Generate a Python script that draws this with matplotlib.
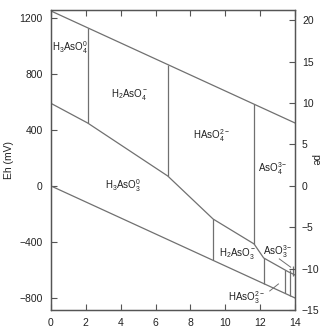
import matplotlib
matplotlib.use("Agg")
import matplotlib.pyplot as plt

plt.rcParams['font.family'] = ['Liberation Sans', 'DejaVu Sans']
plt.rcParams['mathtext.fontset'] = 'custom'
plt.rcParams['mathtext.rm'] = 'Liberation Sans'
plt.rcParams['mathtext.it'] = 'Liberation Sans'
plt.rcParams['mathtext.bf'] = 'Liberation Sans'

# ---- data (pH, Eh in mV) ----
upper_water_ph = [0, 14]
upper_water_eh = [1250, 450]
lower_water_ph = [0, 14]
lower_water_eh = [0, -800]
redox_ph = [0, 2.1, 6.7, 9.3, 11.65, 12.2, 13.6, 14]
redox_eh = [590, 450, 71, -236, -414, -514, -612, -636]

# vertical boundaries: pH, Eh bottom, Eh top
vert_ph = [2.1, 6.7, 11.65, 9.3, 12.2, 13.45, 13.7, 13.88]
vert_lo = [450, 71, -414, -531, -697, -767, -783, -640]
vert_hi = [1130, 867, 584, -236, -514, -600, -600, -575]

# leader lines
leader_ph = [[13.1, 13.75], [12.55, 13.05]]
leader_eh = [[-521, -580], [-750, -700]]

labels = [r"H$_3$AsO$_4^0$", r"H$_2$AsO$_4^-$", r"HAsO$_4^{2-}$", r"AsO$_4^{3-}$",
          r"H$_3$AsO$_3^0$", r"H$_2$AsO$_3^-$", r"AsO$_3^{3-}$", r"HAsO$_3^{2-}$"]
label_ph = [1.1, 4.5, 9.2, 12.75, 4.15, 10.7, 13.0, 11.2]
label_eh = [986, 650, 357, 121, 0, -479, -471, -800]

xticks = [0, 2, 4, 6, 8, 10, 12, 14]
eh_ticks = [-800, -400, 0, 400, 800, 1200]
pe_ticks = [-15, -10, -5, 0, 5, 10, 15, 20]
PE_FACTOR = 59.16

fig = plt.figure(figsize=(3.23, 3.31), dpi=100)
ax = fig.add_axes([51/323, 1-310/331, (295-51)/323, 300/331])

lc = '#707070'
lw = 0.9
ax.plot(upper_water_ph, upper_water_eh, color=lc, lw=lw)
ax.plot(lower_water_ph, lower_water_eh, color=lc, lw=lw)
ax.plot(redox_ph, redox_eh, color=lc, lw=lw)
ax.vlines(vert_ph, vert_lo, vert_hi, color=lc, lw=lw)
for px, ey in zip(leader_ph, leader_eh):
    ax.plot(px, ey, color=lc, lw=0.7)

for t, x, y in zip(labels, label_ph, label_eh):
    ax.text(x, y, t, fontsize=7, ha='center', va='center', color='#222222')

ax.set_xlim(0, 14)
ylo, yhi = -886, 1257
ax.set_ylim(ylo, yhi)
ax.set_xticks(xticks)
ax.set_yticks(eh_ticks)
ax.tick_params(direction='in', length=4, width=0.8, color='#555555',
               labelsize=7.5, labelcolor='#222222', top=True)
ax.tick_params(axis='y', pad=6)
ax.tick_params(axis='x', pad=6)
for s in ax.spines.values():
    s.set_color('#555555')
    s.set_linewidth(0.9)
ax.set_ylabel('Eh (mV)', fontsize=7.5, color='#222222', labelpad=4)

ax2 = ax.twinx()
ax2.set_ylim(ylo / PE_FACTOR, yhi / PE_FACTOR)
ax2.set_yticks(pe_ticks)
ax2.tick_params(direction='in', length=4, width=0.8, color='#555555',
                labelsize=7.5, labelcolor='#222222', pad=5)
for s in ax2.spines.values():
    s.set_color('#555555')
    s.set_linewidth(0.9)
ax2.set_ylabel('pe', fontsize=7.5, color='#222222', rotation=270)
ax2.yaxis.label.set_ha('center')
ax2.yaxis.label.set_va('center')
ax2.yaxis.set_label_coords(1.085, 0.5)

fig.savefig('out.png', dpi=100)
